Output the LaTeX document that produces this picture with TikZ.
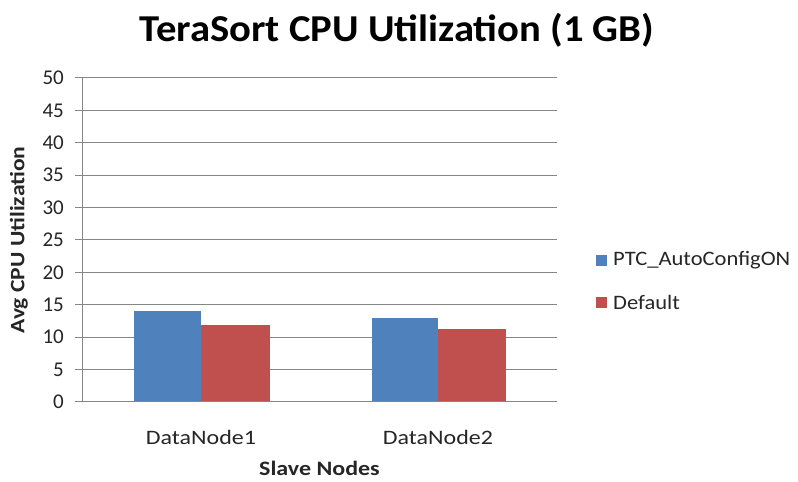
\documentclass[tikz,border=0pt]{standalone}
\usepackage{fontspec}
\usepackage{graphicx}
\setmainfont{Carlito}
\definecolor{seriesA}{HTML}{4F81BD}
\definecolor{seriesB}{HTML}{C0504D}
\definecolor{gridgray}{HTML}{868686}
\definecolor{txt}{HTML}{262626}
% horizontally widened text
\newcommand\wide[2]{\scalebox{#1}[1]{#2}}
\begin{document}
\begin{tikzpicture}[x=1pt,y=1pt,
  grid/.style={draw=gridgray,line width=1pt},
  tick/.style={font=\fontsize{21}{21}\selectfont,text=txt,anchor=east,inner sep=0pt},
  cat/.style={font=\fontsize{20.5}{20.5}\selectfont,text=txt,inner sep=0pt},
  bold/.style={font=\bfseries\fontsize{20.5}{20.5}\selectfont,text=txt,inner sep=0pt}]
\useasboundingbox (0,0) rectangle (798,482);
\fill[white] (0,0) rectangle (798,482);
% gridlines and value labels (0..50 step 5), 0 at y=80, 50 at y=404
\foreach \v [count=\i] in {0,5,...,50}{
  \pgfmathsetmacro{\yy}{80+\v*6.48}
  \draw[grid] (75,\yy) -- (557,\yy);
  \node[tick] (t\i) at (64,\yy) {\v};
}
% bars
\fill[seriesA] (134.3,80) rectangle (201.3,80+14.1*6.48);
\fill[seriesB] (201.3,80) rectangle (270,80+11.9*6.48);
\fill[seriesA] (371.7,80) rectangle (438.3,80+12.96*6.48);
\fill[seriesB] (438.3,80) rectangle (505.7,80+11.3*6.48);
% axes
\draw[grid] (82,80) -- (82,404);
\draw[grid] (75,80) -- (557,80);
% category labels
\node[cat] (c1) at (201,45) {\wide{1.17}{DataNode1}};
\node[cat] (c2) at (438,45) {\wide{1.17}{DataNode2}};
% axis titles
\node[bold] (xt) at (319.5,14) {\wide{1.17}{Slave Nodes}};
\node[bold,rotate=90] (yt) at (19,242) {\wide{1.15}{Avg CPU Utilization}};
% chart title
\node[font=\bfseries\fontsize{38}{38}\selectfont,text=black,inner sep=0pt] (title) at (397,452) {\wide{1.07}{TeraSort CPU Utilization (1 GB)}};
% legend
\fill[seriesA] (596,216) rectangle (607,227);
\node[cat,anchor=west] (l1) at (613,222) {\wide{1.1}{PTC\_AutoConfigON}};
\fill[seriesB] (596,174) rectangle (607,185);
\node[cat,anchor=west] (l2) at (613,180) {\wide{1.1}{Default}};
\end{tikzpicture}
\end{document}
